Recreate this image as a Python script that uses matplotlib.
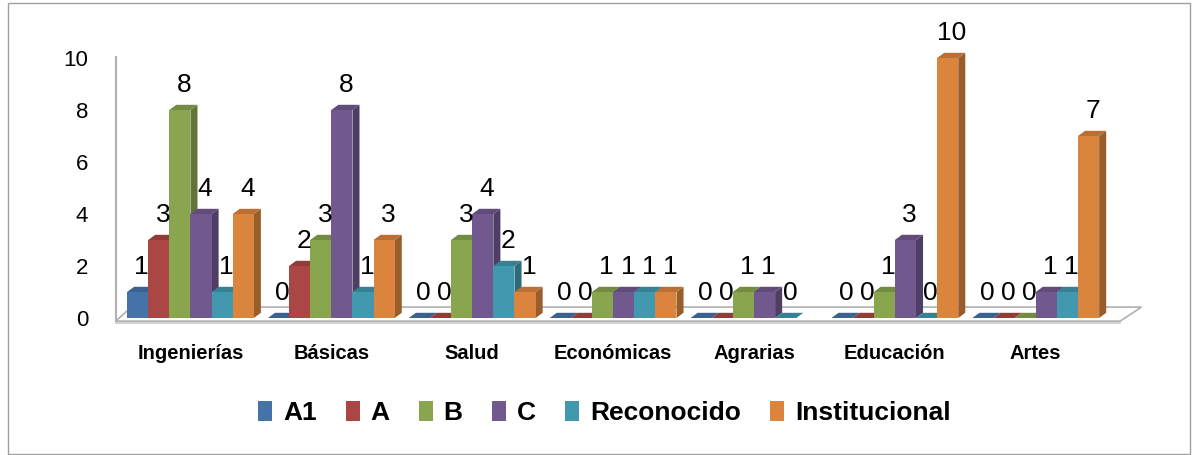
import numpy as np
import matplotlib
matplotlib.use("Agg")
import matplotlib.pyplot as plt
from matplotlib.patches import Polygon, Patch, Rectangle
from matplotlib.colors import to_rgb

plt.rcParams['font.family'] = ['Liberation Sans', 'DejaVu Sans']

categories = ['Ingenierías', 'Básicas', 'Salud', 'Económicas', 'Agrarias', 'Educación', 'Artes']
series = ['A1', 'A', 'B', 'C', 'Reconocido', 'Institucional']
a1 = [1, 0, 0, 0, 0, 0, 0]
a = [3, 2, 0, 0, 0, 0, 0]
b = [8, 3, 3, 1, 1, 1, 0]
c = [4, 8, 4, 1, 1, 3, 1]
reconocido = [1, 1, 2, 1, 0, 0, 1]
institucional = [4, 3, 1, 1, None, 10, 7]
colors = ['#4573A7', '#AA4643', '#89A54E', '#71588F', '#4198AF', '#DB843D']

values = [a1, a, b, c, reconocido, institucional]


def shade(col, f):
    r, g, bb = to_rgb(col)
    return (r * f, g * f, bb * f)


fig = plt.figure(figsize=(11.94, 4.55), dpi=100)
ax = fig.add_axes([120 / 1194, 1 - 318 / 455, 1020 / 1194, 260 / 455])
ax.set_xlim(-0.5, 6.74)
ax.set_ylim(0, 10)

w = 0.15
dx, dy = 0.05, 0.2

# floor + back wall of the fake 3d box
floor = Polygon([(-0.53, -0.12), (6.6, -0.12), (6.75, 0.42), (-0.42, 0.42)],
                closed=True, facecolor='white', edgecolor='#b0b0b0', lw=1.2,
                clip_on=False, zorder=1)
ax.add_patch(floor)
ax.plot([-0.53, 6.6], [-0.2, -0.2], color='#c8c8c8', lw=1.2, clip_on=False, zorder=1)
ax.plot([-0.53, -0.53], [-0.12, 10.05], color='#b0b0b0', lw=1.5, clip_on=False, zorder=1)

x = np.arange(len(categories))
z = 2
for i in range(len(categories)):
    for k, vals in enumerate(values):
        v = vals[i]
        if v is None:
            continue
        x0 = x[i] + (k - 3) * w
        col = colors[k]
        if v > 0:
            side = Polygon([(x0 + w, 0), (x0 + w + dx, dy), (x0 + w + dx, v + dy), (x0 + w, v)],
                           closed=True, facecolor=shade(col, 0.7), edgecolor='none',
                           clip_on=False, zorder=z)
            ax.add_patch(side)
        top = Polygon([(x0, v), (x0 + dx, v + dy), (x0 + w + dx, v + dy), (x0 + w, v)],
                      closed=True, facecolor=shade(col, 0.85), edgecolor='none',
                      clip_on=False, zorder=z)
        ax.add_patch(top)
        if v > 0:
            ax.bar(x0, v, width=w, align='edge', color=col, edgecolor='none',
                   zorder=z + 0.5, clip_on=False)
        z += 1
        ax.annotate(str(v), (x0 + w / 2, v), xytext=(3, 18), textcoords='offset points',
                    ha='center', va='center', fontsize=19, zorder=200)

for s in ax.spines.values():
    s.set_visible(False)
ax.set_yticks([0, 2, 4, 6, 8, 10])
ax.tick_params(axis='y', length=0, pad=23, labelsize=16)
ax.set_xticks(x)
ax.set_xticklabels(categories, fontsize=14.5, fontweight='bold')
ax.tick_params(axis='x', length=0, pad=19)

handles = [Patch(facecolor=col, edgecolor='none') for col in colors]
fig.legend(handles, series, loc='center', bbox_to_anchor=(0.506, 0.092), ncol=6,
           frameon=False, prop={'size': 19, 'weight': 'bold'},
           handlelength=0.55, handleheight=0.75, handletextpad=0.4, columnspacing=1.1)

fig.patches.append(Rectangle((8 / 1194, 0.002), 1182 / 1194, 1 - 3 / 455 - 0.002,
                             transform=fig.transFigure, fill=False,
                             edgecolor='#a0a0a0', lw=1))

fig.savefig('out.png', dpi=100)
